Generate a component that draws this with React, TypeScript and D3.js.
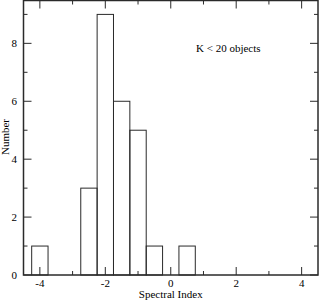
import React, { useRef, useEffect } from "react";
import * as d3 from "d3";

// histogram bins (left edge, width 0.5) and counts
const binStarts = [-4.25, -2.75, -2.25, -1.75, -1.25, -0.75, 0.25];
const binCounts = [1, 3, 9, 6, 5, 1, 1];
const binWidth = 0.5;

const xMajor = [-4, -2, 0, 2, 4];
const xMinor = [-3, -1, 1, 3];
const yMajor = [0, 2, 4, 6, 8];
const yMinor = [1, 3, 5, 7, 9];

const App = () => {
  const svgRef = useRef<SVGSVGElement>(null);

  useEffect(() => {
    const width = 319;
    const height = 300;
    const left = 23.5;
    const right = 318;
    const top = 0.5;
    const bottom = 275;

    const x = d3.scaleLinear().domain([-4.5, 4.5]).range([left, right]);
    const y = d3.scaleLinear().domain([0, 9.48]).range([bottom, top]);

    const svg = d3.select(svgRef.current);
    svg.selectAll("*").remove();
    svg
      .attr("width", width)
      .attr("height", height)
      .style("display", "block")
      .style("font-family", "'Liberation Serif', 'DejaVu Serif', serif");

    const stroke = "#2a2a2a";

    // bars
    svg
      .append("g")
      .selectAll("rect")
      .data(binStarts)
      .join("rect")
      .attr("x", (d) => x(d))
      .attr("y", (d, i) => y(binCounts[i]))
      .attr("width", (d) => x(d + binWidth) - x(d))
      .attr("height", (d, i) => y(0) - y(binCounts[i]))
      .attr("fill", "none")
      .attr("stroke", stroke)
      .attr("stroke-width", 1);

    // ticks
    const ticks = svg.append("g").attr("stroke", stroke).attr("stroke-width", 1);
    const xt = (vals, len) => {
      vals.forEach((v) => {
        ticks.append("line").attr("x1", x(v)).attr("x2", x(v)).attr("y1", bottom).attr("y2", bottom - len);
        ticks.append("line").attr("x1", x(v)).attr("x2", x(v)).attr("y1", top).attr("y2", top + len);
      });
    };
    const yt = (vals, len) => {
      vals.forEach((v) => {
        ticks.append("line").attr("x1", left).attr("x2", left + len).attr("y1", y(v)).attr("y2", y(v));
        ticks.append("line").attr("x1", right).attr("x2", right - len).attr("y1", y(v)).attr("y2", y(v));
      });
    };
    xt(xMajor, 8);
    xt(xMinor, 4);
    yt(yMajor, 8);
    yt(yMinor, 4);

    // frame
    svg
      .append("rect")
      .attr("x", left)
      .attr("y", top)
      .attr("width", right - left)
      .attr("height", bottom - top)
      .attr("fill", "none")
      .attr("stroke", stroke)
      .attr("stroke-width", 1.5);

    // tick labels
    svg
      .append("g")
      .selectAll("text")
      .data(xMajor)
      .join("text")
      .attr("x", (d) => x(d))
      .attr("y", 287)
      .attr("text-anchor", "middle")
      .attr("font-size", 11)
      .text((d) => String(d));

    svg
      .append("g")
      .selectAll("text")
      .data(yMajor)
      .join("text")
      .attr("x", 17)
      .attr("y", (d) => y(d) + 4)
      .attr("text-anchor", "end")
      .attr("font-size", 11)
      .text((d) => d);

    // axis titles
    svg
      .append("text")
      .attr("x", x(0))
      .attr("y", 298)
      .attr("text-anchor", "middle")
      .attr("font-size", 11)
      .text("Spectral Index");

    svg
      .append("text")
      .attr("transform", `translate(9, ${137}) rotate(-90)`)
      .attr("text-anchor", "middle")
      .attr("font-size", 11)
      .text("Number");

    // annotation
    svg
      .append("text")
      .attr("x", 196)
      .attr("y", 52)
      .attr("font-size", 11)
      .text("K < 20 objects");
  }, []);

  return (
    <div style={{ position: "absolute", left: 0, top: 0 }}>
      <svg ref={svgRef}></svg>
    </div>
  );
};

export default App;
